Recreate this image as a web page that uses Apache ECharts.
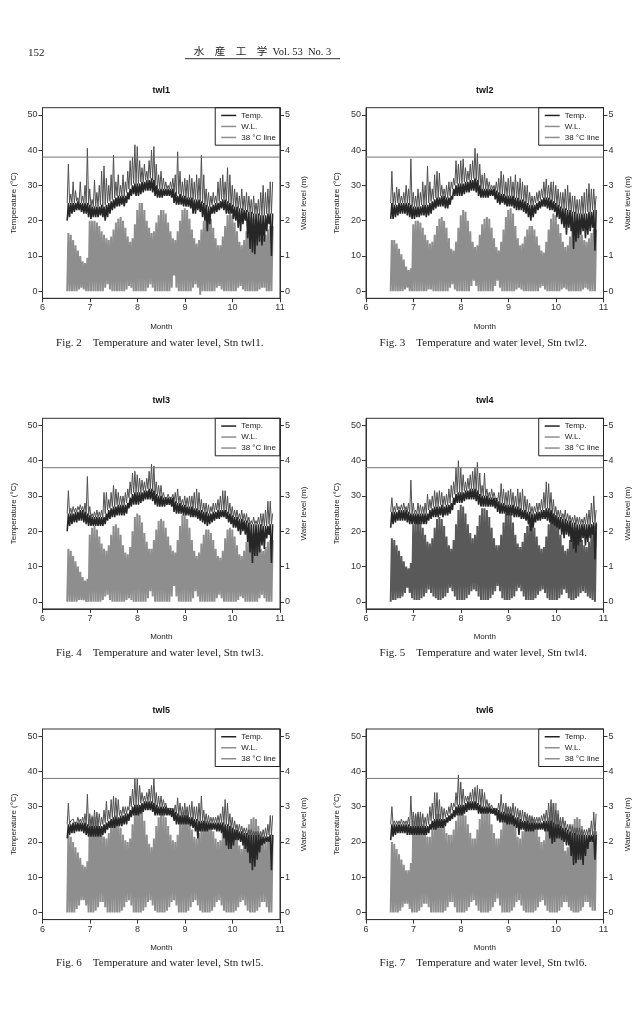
<!DOCTYPE html>
<html lang="ja">
<head>
<meta charset="UTF-8">
<title>水産工学 Vol.53 No.3 p.152</title>
<script src="https://cdn.jsdelivr.net/npm/echarts@6/dist/echarts.min.js"></script>
<style>
  html, body { margin: 0; padding: 0; background: #fff; }
  #page { width: 639px; height: 1011px; }
</style>
</head>
<body>
<div id="page"></div>
<script>
// sampling grid of the logger records (month as decimal), one sample every 0.05 month
const monthStart = 6.52;
const monthStep = 0.05;
const monthTicks = [6, 7, 8, 9, 10, 11];
const tempTicks = [0, 10, 20, 30, 40, 50];
const levelTicks = [0, 1, 2, 3, 4, 5];
const limitTemp = 38;
const stations = ['twl1', 'twl2', 'twl3', 'twl4', 'twl5', 'twl6'];
const figNumbers = [2, 3, 4, 5, 6, 7];

// ---- twl1 ----
const tLow1 = [20,21,22,22.5,23,23,22.5,22,22,21,
  20.5,21,21,21,21.5,21,20,21,22,23,
  23.5,24,24,24.5,24,25,26,27,27.5,27,
  27,27.5,28,28.5,28.5,28.5,28,27,26.5,26.5,
  26.5,27,27,27,26.5,25,24.5,24.5,24.5,24,
  24,24,23.5,22,22,23,22.5,21,20,17,
  19,22,22,22.5,23,23.5,23,22,22,22,
  20.5,20,18,17,19,20,15,12,11,10.5,
  13,14,13,14,17,19,10];
const tTop1 = [25,25,25,25,25.5,25,25,25,25,24.5,
  24,24,24,24,24.5,24,24.5,25,25.5,26,
  26.5,27,27,27,27,28,29,30,30.5,30.5,
  30.5,31,31,31.5,31.5,32,31.5,30,29,29,
  29,29,29,29,29,28,27,27.5,27,27,
  26.5,26.5,26.5,26,26,26,25.5,25,24.5,24,
  24,24.5,25,25,25.5,26,26,25.5,25,24.5,
  24,24,23.5,23.5,23,23,22.5,22.5,22,22,
  22,21.5,21.5,21.5,22,22,22];
const tPeak1 = [36,27.5,31,28.5,26.5,31,27,30,40.5,29,
  26,31.5,28,30,34,35.5,32,30,33,38.5,
  31,33,30,33,31,34,37,38,41.5,41,
  37,35,36,34,37,40,41,36,33,34,
  32,31,30,31,32,33,39.5,34,31,32,
  31.5,33,32,31,33,32,38.5,33,29,28,
  27,28,27,31,32,33,31,35,33,30,
  29,28,27,29,27,28,27,26,27,25,
  26,28,30,28,29,31,31];
const wlHigh1 = [1.65,1.6,1.45,1.3,1.15,1.0,0.85,0.8,0.95,2.0,
  2.0,2.0,1.95,1.85,1.7,1.6,1.5,1.45,1.55,1.75,
  1.95,2.05,2.1,2.0,1.8,1.55,1.4,1.5,1.9,2.3,
  2.5,2.5,2.3,2.0,1.8,1.65,1.7,1.95,2.15,2.3,
  2.3,2.2,1.95,1.7,1.5,1.45,1.7,2.0,2.3,2.35,
  2.3,2.05,1.75,1.5,1.35,1.45,1.75,2.0,2.2,2.2,
  2.05,1.8,1.5,1.3,1.3,1.55,1.85,2.15,2.25,2.15,
  1.95,1.7,1.4,1.3,1.45,1.7,2.0,2.1,2.05,1.85,
  1.65,1.5,1.5,1.6,1.75,1.85,1.85];
const wlLow1 = [0,0,0,0,0,0.05,0.1,0.05,0,0,
  0,0,0,0,0,0,0.1,0.2,0.05,0,
  0,0,0,0,0,0.05,0.15,0.1,0,0,
  0,0,0,0,0.1,0.2,0.1,0,0,0,
  0,0,0,0,0.1,0.45,0.1,0,0,0,
  0,0,0,0.1,0.2,0.1,-0.1,0,0,0,
  0,0,0,0.1,0.15,0.05,0,0,0,0,
  0,0,0.1,0.15,0.05,0,0,0,0,0,
  0,0.05,0.1,0.1,0,0,0];

// ---- twl2 ----
const tLow2 = [20.5,20.5,21,21.5,22,22,22,21.5,21,20.5,
  20.5,21,21,21.5,21.5,21,21.5,22,23,23.5,
  24,24,24,23.5,23.5,24.5,26,27,27,27,
  27,27.5,28,28,28.5,28.5,28,27,26.5,26.5,
  26.5,26.5,27,27,26,25,24.5,25,24.5,24,
  24,24,23.5,23,23,23,22.5,22,21,20,
  21,22,23,23.5,24,24,23.5,23,23,22.5,
  21,20.5,19,18,16,18,17,12,14,15,
  16,17,15,16,17,18,11.5];
const tTop2 = [25,24.5,24.5,25,25,25,25,25,24.5,24,
  24,24,24,24.5,24.5,24.5,25,25.5,26,26.5,
  26.5,27,27,26.5,26.5,27,29,30,30.5,30.5,
  30.5,31,31,31.5,31.5,32,31.5,30,29,29,
  29,29,29,29,28.5,28,27.5,27.5,27,27,
  27,27,26.5,26.5,26,26,25.5,25,24.5,24.5,
  24.5,25,25.5,26,26.5,26.5,26.5,26,25.5,25,
  24.5,24,23.5,23.5,23,23,22.5,22.5,22,22,
  22,22,22,22.5,22.5,23,23];
const tPeak2 = [34,28,29.5,29,27,28,30,29,37.5,28,
  27,29,28,31,30,35.5,31,29,33,34,
  33.5,30,29,30,31,31,32,37,36,37,
  37.5,35,34,36,37,40.5,39,36,33,33.5,
  32,31,30,30,31,32,34,33,31,32,
  32.5,31,33,31,32,31,30,30,28,27,
  27,28,28.5,29,31,31.8,30,31,31,30,
  29,28,28,29,30,28,27,27,26,26,
  27,28,29,30.5,29,29,27];
const wlHigh2 = [1.45,1.45,1.35,1.2,1.05,0.9,0.7,0.6,0.65,1.9,
  2.0,2.0,1.95,1.8,1.6,1.45,1.35,1.4,1.6,1.85,
  2.05,2.1,2.0,1.8,1.5,1.2,1.15,1.4,1.8,2.15,
  2.3,2.25,2.0,1.7,1.4,1.25,1.3,1.6,1.9,2.05,
  2.1,2.05,1.8,1.5,1.25,1.15,1.4,1.75,2.1,2.3,
  2.35,2.2,1.85,1.5,1.3,1.35,1.55,1.75,1.85,1.85,
  1.75,1.55,1.3,1.15,1.1,1.4,1.75,2.05,2.2,2.15,
  1.9,1.65,1.4,1.25,1.3,1.55,1.75,1.9,1.9,1.75,
  1.6,1.45,1.4,1.5,1.65,1.75,1.75];
const wlLow2 = [0,0,0,0,0,0,0.05,0.1,0,0,
  0,0,0,0,0,0,0.05,0.05,0,0,
  0,0,0,0,0,0.1,0.2,0.05,0,0,
  0,0,0,0,0.15,0.3,0.15,0,0,0,
  0,0,0,0,0.15,0.3,0.1,0,0,0,
  0,0,0,0.05,0.1,0.05,0,0,0,0,
  0,0,0,0.1,0.15,0.05,0,0,0,0,
  0,0,0.05,0.1,0.05,0,0,0,0,0,
  0,0.05,0.1,0.05,0,0,0];

// ---- twl3 ----
const tLow3 = [20,21.5,22,22.5,22.5,23,23,22.5,22,21.5,
  21.5,21.5,21.5,21.5,21.5,21.5,22,23,23.5,24,
  24,24.5,24.5,24.5,24.5,25,26.5,27,27.5,27.5,
  27.5,28,28.5,29,29,29,28.5,27.5,27,27,
  27,27,27.5,27.5,27,25.5,25,25,25,24.5,
  24.5,24.5,24,24,24,23.5,23,22.5,22,21.5,
  22,22.5,23,23.5,23.5,24,24,23.5,22.5,22,
  21,21,20,19,20,19,17,14,11,13,
  13,14,16,15,18,19,11];
const tTop3 = [25,25,25,25.5,25.5,26,26,25.5,25,24.5,
  24,24,24,24,24,24,25,26,26.5,27,
  27,27.5,27.5,27.5,27.5,28,29.5,30.5,31,31,
  31,31,31.5,31.5,32,32,31.5,30.5,30,30,
  29.5,29.5,29.5,29.5,29.5,28.5,28,28,27.5,27.5,
  27,27,27,26.5,26.5,26,26,25.5,25.5,25,
  25,25.5,25.5,26,26,26,26,25.5,25,24.5,
  24,24,23.5,23.5,23,23,22.5,22,22,22,
  22,22,21.5,21.5,21.5,22,22];
const tPeak3 = [31.5,26.5,27,26.5,27,27.5,27,28,35.5,27,
  25,25.5,26,25.5,26,31,31,29,31,33,
  32,31,30,30,31,32,34,36.5,37,36,
  35,34.5,34,35,37,39,38.5,34,33,33,
  31,30,30.5,30,30.5,31,32,30,29,30,
  29.5,30,30,31,32,31,29,28,28,27.5,
  27,28,28,29,30,31.5,31.5,30,28,27,
  26,26,25,26,25,25,24,23,24,23,
  24,25,25,26,28.5,28.5,25];
const wlHigh3 = [1.5,1.45,1.3,1.15,1.0,0.85,0.7,0.6,0.65,1.9,
  2.1,2.15,2.05,1.85,1.65,1.5,1.45,1.6,1.9,2.15,
  2.2,2.1,1.9,1.6,1.4,1.35,1.55,2.0,2.4,2.5,
  2.45,2.25,1.95,1.7,1.5,1.5,1.75,2.05,2.3,2.35,
  2.3,2.1,1.85,1.6,1.45,1.4,1.75,2.15,2.45,2.45,
  2.35,2.1,1.75,1.45,1.3,1.4,1.65,1.9,2.05,2.05,
  1.95,1.75,1.5,1.3,1.25,1.45,1.8,2.05,2.1,2.05,
  1.85,1.6,1.35,1.3,1.45,1.7,1.9,1.95,1.9,1.75,
  1.6,1.5,1.45,1.55,1.7,1.75,1.75];
const wlLow3 = [0,0,0,0,0,0.05,0.05,0.05,0,0,
  0,0,0,0,0,0.05,0.15,0.2,0.05,0,
  0,0,0,0,0,0.05,0.1,0.05,0,0,
  0,0,0,0,0.1,0.3,0.15,0,0,0,
  0,0,0,0,0.15,0.45,0.15,0,0,0,
  0,0,0,0.1,0.3,0.15,0,0,0,0,
  0,0,0,0.1,0.2,0.1,0,0,0,0,
  0,0,0.05,0.15,0.1,0,0,0,0,0,
  0,0.1,0.2,0.1,0,0,0];

// ---- twl4 ----
const tLow4 = [21,22,22.5,23,23,23,23,22.5,22,22,
  22,22,22,22,22,22,23,23.5,24,24,
  24,24.5,24,24.5,24.5,25,26,27.5,28,28,
  28,28.5,29,29,29,29,28.5,27.5,27,27,
  27,27,27,27,26.5,25.5,25,25,25,24.5,
  24.5,24.5,24,24,24,23.5,23.5,23,22,20,
  21,22.5,23,23,23.5,23.5,23,22.5,22,21.5,
  21,20.5,19,18,19,18.5,17,15,14,16,
  17,18,16,17,18,19,12];
const tTop4 = [25.5,25.5,25.5,26,26,26,26,25.5,25,25,
  25,25,25,25,25,25,26,26.5,27,27,
  27,27.5,27,27.5,27.5,28,29.5,30.5,31,31,
  31,31.5,31.5,32,32,32,31.5,30.5,30,30,
  30,29.5,29.5,29.5,29.5,28.5,28,28,27.5,27.5,
  27.5,27.5,27,27,26.5,26,26,25.5,25.5,25,
  25,25.5,25.5,26,26,26.5,26.5,26,25,24.5,
  24,24,23.5,23.5,23,23,22.5,22.5,22,22,
  22,22,22,22,22,22.5,22.5];
const tPeak4 = [29.5,27,28,27,27.5,28,27,28,34.5,28,
  26,28,27.5,27,28,30.5,29,30,31.5,31,
  31.5,31,30,30.5,32,33,34,38,40,38,
  36,34,35,36,37,38,39.5,36.5,33,36.5,
  32,31,32,31,30,31,33.5,32,31,31.5,
  32,31,30,32,31,32,30,29,28,27,
  27,28,28,29,31,34,33.5,31,29,27,
  26,26,25,26,25,24.5,24,24.5,24,24,
  23.5,24,25,26,28,30,26];
const wlHigh4 = [1.8,1.75,1.6,1.45,1.3,1.15,1.0,0.95,1.1,2.2,
  2.3,2.3,2.25,2.1,1.9,1.7,1.65,1.8,2.1,2.35,
  2.4,2.35,2.15,1.85,1.6,1.5,1.75,2.2,2.6,2.75,
  2.7,2.5,2.2,1.95,1.8,1.9,2.15,2.45,2.65,2.65,
  2.6,2.4,2.1,1.8,1.6,1.6,1.9,2.25,2.5,2.55,
  2.5,2.25,1.9,1.65,1.55,1.7,1.95,2.15,2.25,2.25,
  2.1,1.85,1.6,1.5,1.55,1.85,2.2,2.45,2.5,2.4,
  2.2,1.9,1.6,1.45,1.5,1.75,2.0,2.1,2.1,1.95,
  1.75,1.6,1.55,1.7,1.95,2.15,2.2];
const wlLow4 = [0,0.05,0.05,0.1,0.1,0.15,0.25,0.4,0.25,0.1,
  0.05,0.05,0.05,0.1,0.15,0.25,0.35,0.25,0.15,0.1,
  0.05,0.05,0.1,0.15,0.25,0.4,0.3,0.15,0.05,0.05,
  0.05,0.05,0.1,0.2,0.3,0.35,0.3,0.15,0.05,0.05,
  0.05,0.05,0.1,0.2,0.3,0.45,0.3,0.1,0.05,0.05,
  0.05,0.1,0.15,0.3,0.4,0.3,0.15,0.05,0.05,0.05,
  0.05,0.1,0.2,0.3,0.35,0.25,0.1,0.05,0.05,0.05,
  0.05,0.1,0.2,0.35,0.25,0.1,0.05,0.05,0.1,0.15,
  0.25,0.3,0.25,0.15,0.1,0.05,0];

// ---- twl5 ----
const tLow5 = [21,22,22.5,22.5,23,23,23,22.5,22,21.5,
  21.5,21.5,21.5,21.5,21.5,22,22.5,23.5,24,24,
  24,24.5,24.5,24.5,25,25,26,27,27.5,27.5,
  27.5,28,28.5,29,29,29,28.5,27.5,27.5,27.5,
  27.5,27.5,27.5,27.5,27,26,25,25,25,25,
  25,25,24.5,24,23,21,23,23,23,23,
  23.5,23.5,23.5,23,23,22.5,21,19,18,18,
  19,20.5,20.5,20,19,18,17,14,12,13,
  15,17,19,19.5,20,20,12];
const tTop5 = [25,25,25.5,25.5,25.5,25.5,25.5,25.5,25,24.5,
  24.5,24.5,24.5,24.5,24.5,25,25.5,26,26.5,27,
  27,27,27.5,27.5,28,28,29,30,30.5,30.5,
  30.5,31,31.5,31.5,31.5,31.5,31,30.5,30,30,
  30,30,29.5,29.5,29.5,28.5,28,27.5,27.5,27.5,
  27.5,27,27,26.5,26.5,26,26,26,25.5,25.5,
  25.5,25.5,25.5,25.5,25.5,25.5,25,25,24.5,24,
  23.5,23.5,23,23,22.5,22.5,22,22,22,22,
  22,21.5,21.5,21.5,21.5,22,22];
const tPeak5 = [31,26,26.5,26,27,26.5,27,28,33.5,28,
  27,29,28.5,28,27,29,31.5,29,32,33,
  32.5,32,29,30,30,30,33,35,38,38,
  36,34,33,34,35,36,38,34,33,33,
  32,31,30,30,30,30.5,32.5,31,30,31,
  30,30.5,31.5,30,30,31,33,29,28,27.5,
  27,27,27,27.5,28,30,32,31,28,27,
  26,25,25,24.5,24,24,23.5,23.5,23,23,
  23,23,23.5,24,25,27.5,27.5];
const wlHigh5 = [2.2,2.15,2.0,1.85,1.7,1.55,1.35,1.3,1.45,2.65,
  2.75,2.7,2.6,2.45,2.3,2.15,2.1,2.25,2.5,2.7,
  2.75,2.6,2.4,2.2,2.05,2.0,2.1,2.5,2.9,3.05,
  3.05,2.9,2.6,2.2,1.95,1.85,2.1,2.45,2.7,2.8,
  2.8,2.7,2.45,2.2,2.05,2.0,2.2,2.55,2.85,2.9,
  2.85,2.65,2.35,2.15,2.1,2.25,2.45,2.6,2.6,2.6,
  2.5,2.3,2.1,2.0,2.05,2.25,2.4,2.45,2.45,2.4,
  2.35,2.15,1.9,1.8,1.95,2.25,2.5,2.65,2.7,2.65,
  2.45,2.2,2.0,2.0,2.1,2.2,2.2];
const wlLow5 = [0,0,0,0,0.1,0.2,0.35,0.35,0.2,0,
  0,0,0.05,0.15,0.3,0.3,0.15,0,0,0,
  0,0,0,0.05,0.15,0.3,0.35,0.2,0,0,
  0,0,0.05,0.15,0.3,0.35,0.2,0.05,0,0,
  0,0,0.05,0.15,0.3,0.35,0.2,0,0,0,
  0,0.05,0.15,0.3,0.35,0.2,0.05,0,0,0,
  0,0.05,0.15,0.3,0.35,0.2,0.05,0,0,0,
  0,0.05,0.15,0.3,0.35,0.2,0.05,0,0,0,
  0.05,0.15,0.3,0.3,0.15,0,0];

// ---- twl6 ----
const tLow6 = [20.5,21.5,22,22.5,22.5,22.5,22.5,22,22,22,
  22,22,22,22,22,22,22.5,23.5,23.5,23.5,
  24,24,24,24.5,25.5,26,26.5,27,27.5,27.5,
  27.5,28,28.5,29,29,29,29,28,28,28,
  28,28,28,28,27.5,26,25.5,25.5,25.5,25,
  25,25,24.5,24,22,23.5,23.5,23,23,23,
  23,23.5,23.5,23.5,23.5,23,23,21,19.5,20,
  21,21,20.5,20,19,19,16,13.5,14,15,
  15,13.5,16,18,20,20,15];
const tTop6 = [25,25,25,25,25,25,25,25,24.5,24.5,
  24.5,24.5,24.5,24.5,24.5,24.5,25,26,26.5,26.5,
  26.5,26.5,26.5,27,27.5,28,29,30,30.5,30.5,
  30.5,31,31.5,31.5,31.5,31.5,31,30.5,30,30,
  30,30,29.5,29.5,29.5,29,28.5,28.5,28,28,
  28,27.5,27,27,26.5,26,26,26,25.5,25.5,
  25.5,25.5,25.5,25.5,26,26,26,26,25.5,25,
  25,24.5,24,24,23.5,23,22.5,22.5,22,22,
  22,22,22,22,22,22,22];
const tPeak6 = [30,26,26,26,26.5,26,26,27,33,28.5,
  28,28.5,28.5,28,27,28,30,31,34,34,
  32,30,29.5,29,30,31,31,34,39,37,
  35,33,33,34,35,35.5,36,35,35,34,
  32,31,30.5,30,30,31,33.5,31,31,30,
  30,31,30,29.5,29,29,28.5,28,27.5,27,
  27,27,27,27.5,28,29,31,32,31,29,
  28,27,27,26,25,25,24.5,24,24,24,
  23.5,23.5,23.5,24,26,28.5,28];
const wlHigh6 = [2.0,1.95,1.8,1.65,1.5,1.35,1.2,1.2,1.4,2.6,
  2.75,2.8,2.7,2.5,2.3,2.15,2.15,2.35,2.6,2.8,
  2.8,2.65,2.45,2.25,2.2,2.2,2.35,2.6,2.8,2.85,
  2.85,2.75,2.5,2.25,2.1,2.1,2.35,2.65,2.9,2.95,
  2.95,2.8,2.5,2.25,2.1,2.1,2.35,2.7,2.95,3.0,
  2.95,2.75,2.45,2.15,2.1,2.3,2.55,2.7,2.75,2.75,
  2.65,2.4,2.15,2.0,2.05,2.35,2.7,2.95,3.1,3.1,
  2.9,2.6,2.2,1.75,1.85,2.2,2.5,2.65,2.7,2.65,
  2.45,2.2,2.0,2.0,2.15,2.3,2.3];
const wlLow6 = [0,0,0,0,0.05,0.15,0.25,0.25,0.1,0,
  0,0,0.05,0.15,0.25,0.25,0.15,0,0,0,
  0,0,0,0.05,0.15,0.3,0.3,0.15,0,0,
  0,0,0.05,0.15,0.3,0.35,0.2,0.05,0,0,
  0,0,0.05,0.15,0.3,0.4,0.2,0,0,0,
  0,0.05,0.15,0.3,0.35,0.2,0.05,0,0,0,
  0,0.05,0.15,0.3,0.35,0.2,0.05,0,0,0,
  0,0.05,0.15,0.3,0.3,0.15,0.05,0,0,0,
  0.05,0.15,0.3,0.3,0.15,0.05,0.05];

const tempLows = [tLow1, tLow2, tLow3, tLow4, tLow5, tLow6];
const tempTops = [tTop1, tTop2, tTop3, tTop4, tTop5, tTop6];
const tempPeaks = [tPeak1, tPeak2, tPeak3, tPeak4, tPeak5, tPeak6];
const levelHighs = [wlHigh1, wlHigh2, wlHigh3, wlHigh4, wlHigh5, wlHigh6];
const levelLows = [wlLow1, wlLow2, wlLow3, wlLow4, wlLow5, wlLow6];

// page layout (px)
const colLeft = [42.5, 366];
const plotW = 237.5;
const rowTop = [107.7, 418.3, 729];
const plotH = 190.6;
const titleY = [91, 400.7, 711];
const captionY = [342.7, 652.7, 963.3];
const levelColors = ['#8e8e8e', '#8e8e8e', '#8e8e8e', '#595959', '#8e8e8e', '#8e8e8e'];

const sansFont = '"Liberation Sans", Arial, sans-serif';
const serifFont = '"Liberation Serif", "Noto Sans CJK JP", serif';

// each sample is drawn as one low -> high swing of the trace
function zigzag(lower, upper) {
  const pts = [];
  for (let i = 0; i < lower.length; i++) {
    const m = monthStart + i * monthStep;
    pts.push([m, lower[i]], [m + monthStep / 2, upper[i]]);
  }
  return pts;
}

const grids = [], xAxes = [], yAxes = [], series = [], legends = [], texts = [];

stations.forEach((st, p) => {
  const col = p % 2, row = Math.floor(p / 2);
  const left = colLeft[col], top = rowTop[row];
  grids.push({left: left, top: top, width: plotW, height: plotH,
    show: true, borderColor: '#333', borderWidth: 1, containLabel: false});

  xAxes.push({
    gridIndex: p, type: 'value', min: monthTicks[0], max: monthTicks[monthTicks.length - 1], interval: 1,
    name: 'Month', nameLocation: 'middle', nameGap: 24,
    nameTextStyle: {fontSize: 8, color: '#222', fontFamily: sansFont},
    axisLine: {show: true, onZero: false, lineStyle: {color: '#333', width: 1}},
    axisTick: {show: true, length: 4, lineStyle: {color: '#333'}},
    axisLabel: {fontSize: 9, color: '#333', margin: 5, fontFamily: sansFont},
    splitLine: {show: false}
  });

  yAxes.push({
    gridIndex: p, type: 'value', position: 'left', min: -2, max: 52,
    name: 'Temperature (°C)', nameLocation: 'middle', nameGap: 25, nameRotate: 90,
    nameTextStyle: {fontSize: 8, color: '#222', fontFamily: sansFont},
    axisLine: {show: true, onZero: false, lineStyle: {color: '#333'}},
    axisTick: {show: true, length: 4, customValues: tempTicks, lineStyle: {color: '#333'}},
    axisLabel: {fontSize: 9, color: '#333', margin: 5, customValues: tempTicks, fontFamily: sansFont},
    splitLine: {show: false}
  });
  yAxes.push({
    gridIndex: p, type: 'value', position: 'right', min: -0.2, max: 5.2,
    name: 'Water level (m)', nameLocation: 'middle', nameGap: 20, nameRotate: 90,
    nameTextStyle: {fontSize: 8, color: '#222', fontFamily: sansFont},
    axisLine: {show: true, onZero: false, lineStyle: {color: '#333'}},
    axisTick: {show: true, length: 4, customValues: levelTicks, lineStyle: {color: '#333'}},
    axisLabel: {fontSize: 9, color: '#333', margin: 5, customValues: levelTicks, fontFamily: sansFont},
    splitLine: {show: false}
  });

  const common = {type: 'line', xAxisIndex: p, symbol: 'none', silent: true, animation: false};
  series.push(Object.assign({}, common, {
    name: 'W.L.', yAxisIndex: 2 * p + 1,
    data: zigzag(levelLows[p], levelHighs[p]),
    lineStyle: {color: levelColors[p], width: 2}, itemStyle: {color: '#8e8e8e'}
  }));
  series.push(Object.assign({}, common, {
    name: 'Temp.', yAxisIndex: 2 * p,
    data: zigzag(tempTops[p], tempPeaks[p]),
    lineStyle: {color: '#505050', width: 1}, itemStyle: {color: '#222'}
  }));
  series.push(Object.assign({}, common, {
    name: 'Temp.', yAxisIndex: 2 * p,
    data: zigzag(tempLows[p], tempTops[p]),
    lineStyle: {color: '#262626', width: 1.6}, itemStyle: {color: '#222'}
  }));
  series.push(Object.assign({}, common, {
    name: '38 °C line', yAxisIndex: 2 * p,
    data: [[monthTicks[0], limitTemp], [monthTicks[monthTicks.length - 1], limitTemp]],
    lineStyle: {color: '#777', width: 1}, itemStyle: {color: '#8e8e8e'}
  }));

  legends.push({
    data: ['Temp.', 'W.L.', '38 °C line'], orient: 'vertical', selectedMode: false,
    right: 639 - (left + plotW), top: top,
    borderColor: '#222', borderWidth: 1, padding: [3, 4, 3, 6],
    icon: 'rect', itemWidth: 15, itemHeight: 1.5, itemGap: 1.5,
    textStyle: {fontSize: 8, lineHeight: 9.5, color: '#222', fontFamily: sansFont}
  });

  texts.push({type: 'text',
    style: {text: st, x: left + plotW / 2, y: titleY[row], align: 'center', verticalAlign: 'middle',
      font: 'bold 9px ' + sansFont, fill: '#111'}});
  texts.push({type: 'text',
    style: {text: 'Fig. ' + figNumbers[p] + '\u3000Temperature and water level, Stn ' + st + '.',
      x: left + plotW / 2 - 1.5, y: captionY[row], align: 'center', verticalAlign: 'middle',
      font: '11px ' + serifFont, fill: '#222'}});
});

// running head of the journal page
texts.push({type: 'text', style: {text: '152', x: 28, y: 52.7, verticalAlign: 'middle',
  font: '11px ' + serifFont, fill: '#222'}});
texts.push({type: 'text', style: {text: '水\u3000産\u3000工\u3000学\u2002Vol. 53\u2002No. 3', x: 262.5, y: 52.7,
  align: 'center', verticalAlign: 'middle', font: '10.5px ' + serifFont, fill: '#222'}});
texts.push({type: 'line', shape: {x1: 185, y1: 58.7, x2: 340, y2: 58.7},
  style: {stroke: '#333', lineWidth: 1}});

const chart = echarts.init(document.getElementById('page'), null, {renderer: 'canvas'});
chart.setOption({
  backgroundColor: '#fff',
  animation: false,
  grid: grids,
  xAxis: xAxes,
  yAxis: yAxes,
  legend: legends,
  series: series,
  graphic: {elements: texts}
});
</script>
</body>
</html>
